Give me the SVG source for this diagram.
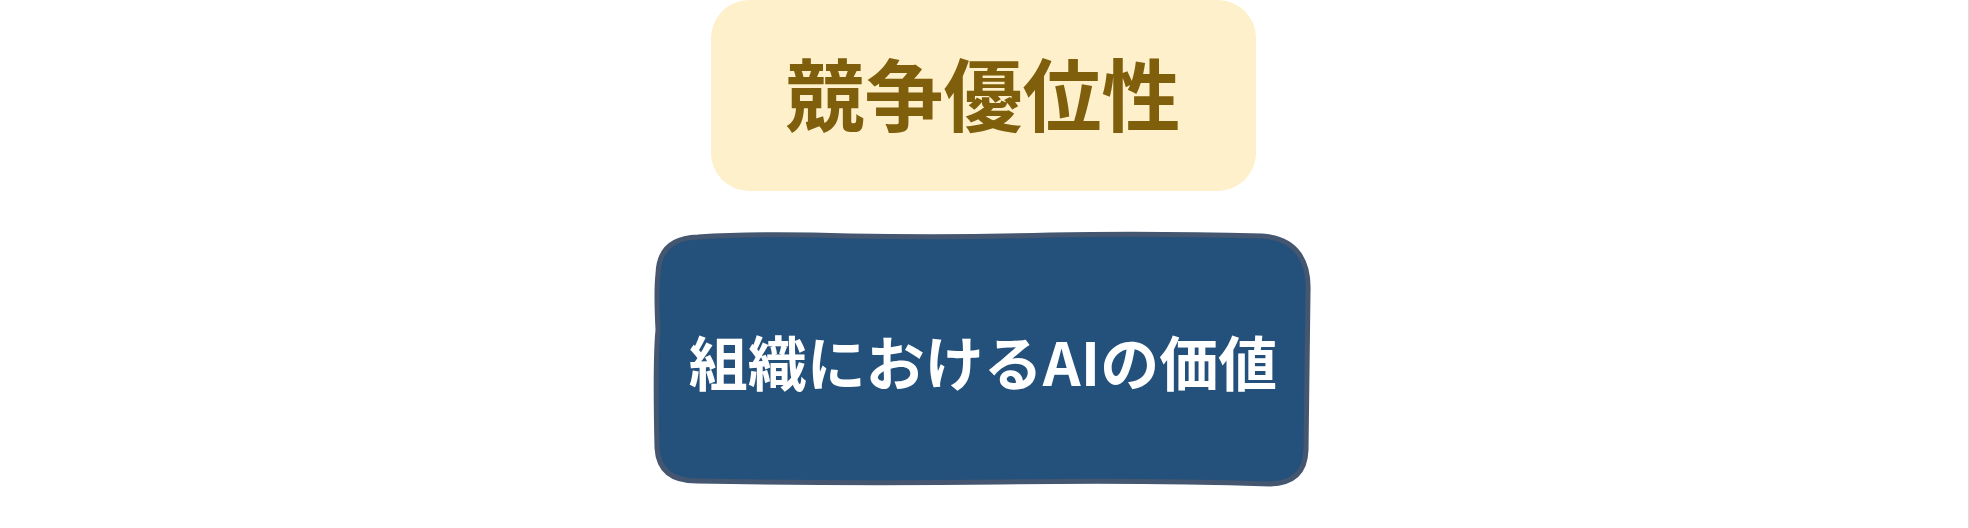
<svg xmlns="http://www.w3.org/2000/svg" width="1969" height="528" viewBox="0 0 1969 528">
  <style>
    .lbl { font-family: "Noto Sans CJK JP", "Noto Sans", sans-serif; font-weight: 700; text-anchor: middle; dominant-baseline: central; }
  </style>
  <rect x="0" y="0" width="1969" height="528" fill="#ffffff"/>
  <line x1="1968.5" y1="0" x2="1968.5" y2="528" stroke="#dddddd" stroke-width="1"/>
  <g id="node-competitive-advantage">
    <rect x="711" y="0" width="545" height="191" rx="38" ry="38" fill="#FEF0CA"/>
    <text class="lbl" x="983" y="91" font-size="79" fill="#7F5E0C">競争優位性</text>
  </g>
  <g id="node-ai-value">
    <path d="M 698 237 Q 760 233 850 236 Q 950 238 1050 235 Q 1150 233 1262 236 Q 1288 238 1299 254 Q 1309 268 1308 292 L 1306 450 Q 1305 483 1270 484 Q 1150 480 1000 482 Q 850 484 697 481 Q 659 481 657 448 Q 655 360 658 330 Q 656 290 658 274 Q 659 238 698 237 Z" fill="#24517B" stroke="#445670" stroke-width="5" stroke-linejoin="round"/>
    <text class="lbl" x="983" y="360" font-size="59" fill="#ffffff">組織におけるAIの価値</text>
  </g>
  <g id="connectors"></g>
</svg>
